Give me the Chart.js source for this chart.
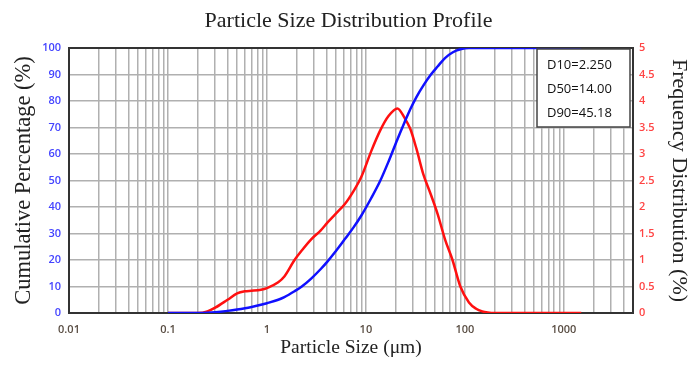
<!DOCTYPE html>
<html lang="en">
<head>
<meta charset="UTF-8">
<title>Particle Size Distribution Profile</title>
<script src="https://cdn.jsdelivr.net/npm/chart.js@4.4.0/dist/chart.umd.min.js"></script>
<style>
  html, body { margin: 0; padding: 0; background: #fff; }
</style>
</head>
<body>
<canvas id="chart" width="697" height="368"></canvas>
<script>
// particle size (um)
const sizes = [0.1, 0.2, 0.25, 0.3, 0.4, 0.5, 0.6, 0.7, 0.87, 1,
  1.3, 1.5, 1.9, 2.25, 2.8, 3.5, 4.1, 5, 6.1, 7.5,
  9, 11.3, 14, 17, 20.8, 24.6, 28, 32.4, 38, 45,
  53, 63, 75, 90, 110, 130, 150, 170, 200, 300,
  500, 1000, 1500];
// cumulative percentage (%) - left axis
const cumulative = [0, 0, 0.1, 0.3, 0.8, 1.3, 1.8, 2.3, 3.1, 3.7,
  5.0, 6.0, 8.2, 10, 13.0, 16.6, 19.5, 23.5, 27.8, 32.3,
  36.8, 43.3, 50, 57.3, 65.5, 72, 76.8, 81.5, 85.8, 89.8,
  93.0, 96.2, 98.3, 99.5, 100, 100, 100, 100, 100, 100,
  100, 100, 100];
// frequency distribution (%) - right axis
const frequency = [0, 0, 0.03, 0.1, 0.25, 0.37, 0.41, 0.42, 0.44, 0.47,
  0.58, 0.69, 1.0, 1.18, 1.39, 1.56, 1.71, 1.88, 2.05, 2.3,
  2.57, 3.05, 3.45, 3.72, 3.86, 3.68, 3.48, 3.1, 2.62, 2.25,
  1.87, 1.39, 1.0, 0.5, 0.2, 0.08, 0.03, 0.01, 0, 0,
  0, 0, 0];

const decades = [0.01, 0.1, 1, 10, 100, 1000];
const xMax = 5000;
const dLabels = ['D10=2.250', 'D50=14.00', 'D90=45.18'];

// gridlines at 1..9 of every decade
const xGrid = [];
decades.forEach(d => {
  for (let m = 1; m <= 9; m++) {
    const v = +(d * m).toPrecision(6);
    if (v <= xMax) xGrid.push(v);
  }
});

const tickFont = { family: 'Open Sans', size: 11, weight: '600' };
const serif = 'Liberation Serif';

const frame = {
  id: 'frame',
  beforeDatasetsDraw(chart) {
    const a = chart.chartArea, ctx = chart.ctx;
    ctx.save();
    ctx.strokeStyle = '#333';
    ctx.lineWidth = 2;
    ctx.strokeRect(a.left, a.top, a.right - a.left, a.bottom - a.top);
    ctx.restore();
  }
};

const dBox = {
  id: 'dBox',
  afterDraw(chart) {
    const a = chart.chartArea, ctx = chart.ctx;
    const w = 93, h = 78;
    const x0 = a.right - w - 3, y0 = a.top + 1;
    ctx.save();
    ctx.fillStyle = '#fff';
    ctx.fillRect(x0, y0, w, h);
    ctx.strokeStyle = '#444';
    ctx.lineWidth = 1.5;
    ctx.strokeRect(x0, y0, w, h);
    ctx.fillStyle = '#111';
    ctx.font = '13px "Open Sans"';
    ctx.textBaseline = 'middle';
    dLabels.forEach((t, i) => ctx.fillText(t, x0 + 10, y0 + 16 + i * 24));
    ctx.restore();
  }
};

new Chart(document.getElementById('chart'), {
  type: 'line',
  data: {
    datasets: [{
      label: 'Cumulative',
      data: sizes.map((x, i) => ({ x, y: cumulative[i] })),
      borderColor: '#1010ff',
      borderWidth: 2.5,
      pointRadius: 0,
      cubicInterpolationMode: 'monotone',
      yAxisID: 'y'
    }, {
      label: 'Frequency',
      data: sizes.map((x, i) => ({ x, y: frequency[i] })),
      borderColor: '#ff1010',
      borderWidth: 2.5,
      pointRadius: 0,
      cubicInterpolationMode: 'monotone',
      yAxisID: 'y1'
    }]
  },
  options: {
    responsive: false,
    animation: false,
    layout: { padding: 0 },
    plugins: {
      legend: { display: false },
      tooltip: { enabled: false },
      title: {
        display: true,
        text: 'Particle Size Distribution Profile',
        color: '#222',
        font: { family: serif, size: 22, weight: 'normal' },
        padding: { top: 8, bottom: 13.6 }
      }
    },
    scales: {
      x: {
        type: 'logarithmic',
        min: 0.01,
        max: xMax,
        afterBuildTicks: s => { s.ticks = xGrid.map(v => ({ value: v })); },
        afterFit: s => { s.height = 55; },
        grid: { color: '#b0b0b0', lineWidth: 1.5, drawTicks: false },
        border: { display: false },
        ticks: {
          autoSkip: false,
          maxRotation: 0,
          padding: 10,
          color: '#5a4e44',
          font: tickFont,
          callback: v => decades.includes(v) ? String(v) : ''
        },
        title: {
          display: true,
          text: 'Particle Size (μm)',
          color: '#222',
          font: { family: serif, size: 19.5 },
          padding: { bottom: 8 }
        }
      },
      y: {
        position: 'left',
        min: 0,
        max: 100,
        afterFit: s => { s.width = 69; },
        grid: { color: '#b0b0b0', lineWidth: 1.5, drawTicks: false },
        border: { display: false },
        ticks: { stepSize: 10, padding: 8, color: '#4444ff', font: tickFont },
        title: {
          display: true,
          text: 'Cumulative Percentage (%)',
          color: '#222',
          font: { family: serif, size: 22.5 },
          padding: { top: 11 }
        }
      },
      y1: {
        position: 'right',
        min: 0,
        max: 5,
        afterFit: s => { s.width = 64; },
        grid: { drawOnChartArea: false, drawTicks: false },
        border: { display: false },
        ticks: {
          stepSize: 0.5,
          padding: 6,
          color: '#ff4444',
          font: tickFont,
          callback: v => String(v)
        },
        title: {
          display: true,
          text: 'Frequency Distribution (%)',
          color: '#222',
          font: { family: serif, size: 22 },
          padding: { top: 5 }
        }
      }
    }
  },
  plugins: [frame, dBox]
});
</script>
</body>
</html>
